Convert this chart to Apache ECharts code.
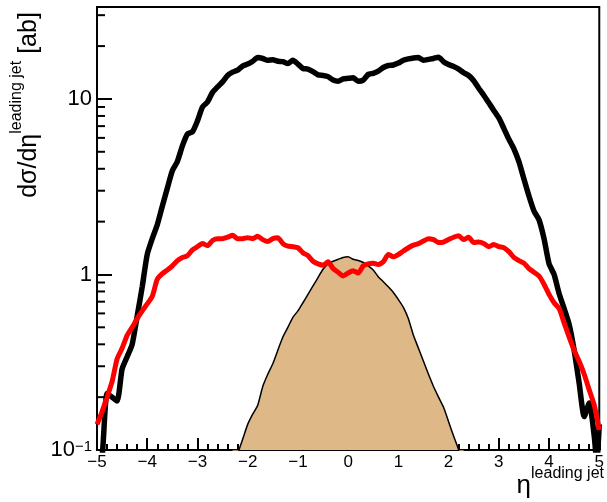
<!DOCTYPE html>
<html><head><meta charset="utf-8">
<script src="https://cdn.jsdelivr.net/npm/echarts@6/dist/echarts.min.js"></script>
<style>html,body{margin:0;padding:0;background:#fff}#c{width:607px;height:502px}</style>
</head><body><div id="c"></div>
<script>
// ---- data ----
const etaBlack = [-5.0,-4.9,-4.8,-4.7,-4.6,-4.5,-4.4,-4.3,-4.2,-4.1,-4.0,-3.9,-3.8,-3.7,-3.6,-3.5,-3.4,-3.3,-3.2,-3.1,
  -3.0,-2.9,-2.8,-2.7,-2.6,-2.5,-2.4,-2.3,-2.2,-2.1,-2.0,-1.9,-1.8,-1.7,-1.6,-1.5,-1.4,-1.3,-1.2,-1.1,
  -1.0,-0.9,-0.8,-0.7,-0.6,-0.5,-0.4,-0.3,-0.2,-0.1,0.0,0.1,0.2,0.3,0.4,0.5,0.6,0.7,0.8,0.9,
  1.0,1.1,1.2,1.3,1.4,1.5,1.6,1.7,1.8,1.9,2.0,2.1,2.2,2.3,2.4,2.5,2.6,2.7,2.8,2.9,
  3.0,3.1,3.2,3.3,3.4,3.5,3.6,3.7,3.8,3.9,4.0,4.1,4.2,4.3,4.4,4.5,4.6,4.7,4.8,4.9,4.95,5.0];
const blackVals = [0.07,0.09,0.21,0.20,0.19,0.29,0.34,0.40,0.58,0.85,1.30,1.60,1.92,2.45,3.10,3.90,4.40,5.40,6.30,6.50,
  7.50,9.00,9.60,10.9,11.7,12.5,13.6,14.2,14.6,15.4,15.8,16.4,17.2,17.0,16.6,16.7,16.4,16.3,15.9,16.6,
  15.8,14.9,14.8,14.3,13.7,13.6,13.4,12.8,12.6,13.0,13.1,13.2,12.6,12.8,13.8,14.0,14.4,15.1,15.5,15.6,
  16.0,16.6,16.9,17.1,17.2,16.6,16.8,17.0,17.3,16.3,15.7,15.3,14.8,14.1,13.6,12.7,11.5,10.5,9.5,8.6,
  7.8,6.8,5.9,5.2,4.4,3.5,2.8,2.3,2.05,1.6,1.15,1.00,0.78,0.64,0.52,0.37,0.24,0.155,0.185,0.12,0.085,0.14];

const etaRed = [-5.0,-4.9,-4.8,-4.7,-4.6,-4.5,-4.4,-4.3,-4.2,-4.1,-4.0,-3.9,-3.8,-3.7,-3.6,-3.5,-3.4,-3.3,-3.2,-3.1,
  -3.0,-2.9,-2.8,-2.7,-2.6,-2.5,-2.4,-2.3,-2.2,-2.1,-2.0,-1.9,-1.8,-1.7,-1.6,-1.5,-1.4,-1.3,-1.2,-1.1,
  -1.0,-0.9,-0.8,-0.7,-0.6,-0.5,-0.4,-0.3,-0.2,-0.1,0.0,0.1,0.2,0.3,0.4,0.5,0.6,0.7,0.8,0.9,
  1.0,1.1,1.2,1.3,1.4,1.5,1.6,1.7,1.8,1.9,2.0,2.1,2.2,2.3,2.4,2.5,2.6,2.7,2.8,2.9,
  3.0,3.1,3.2,3.3,3.4,3.5,3.6,3.7,3.8,3.9,4.0,4.1,4.2,4.3,4.4,4.5,4.6,4.7,4.8,4.9,5.0];
const redVals = [0.14,0.165,0.20,0.245,0.33,0.38,0.45,0.50,0.56,0.62,0.68,0.75,0.94,1.01,1.06,1.12,1.20,1.25,1.28,1.38,
  1.44,1.50,1.46,1.56,1.60,1.60,1.63,1.67,1.60,1.60,1.62,1.60,1.65,1.58,1.54,1.60,1.62,1.50,1.45,1.44,
  1.42,1.33,1.28,1.19,1.15,1.13,1.18,1.08,1.03,0.98,1.02,1.05,1.02,1.12,1.15,1.16,1.14,1.18,1.30,1.26,
  1.30,1.36,1.42,1.47,1.50,1.55,1.60,1.58,1.52,1.53,1.58,1.63,1.66,1.58,1.63,1.52,1.53,1.50,1.44,1.48,
  1.44,1.42,1.35,1.25,1.20,1.16,1.08,1.03,0.98,0.88,0.77,0.69,0.64,0.53,0.44,0.37,0.32,0.27,0.22,0.18,0.13];

const etaTan = [-2.3,-2.2,-2.1,-2.0,-1.9,-1.8,-1.7,-1.6,-1.5,-1.4,-1.3,-1.2,-1.1,-1.0,-0.9,-0.8,-0.7,-0.6,-0.5,-0.4,
  -0.3,-0.2,-0.1,0.0,0.1,0.2,0.3,0.4,0.5,0.6,0.7,0.8,0.9,1.0,1.1,1.2,1.3,1.4,1.5,1.6,1.7,1.8,1.9,2.0,2.1,2.2,2.3];
const tanVals = [0.07,0.095,0.115,0.14,0.16,0.18,0.23,0.27,0.31,0.37,0.44,0.50,0.57,0.62,0.69,0.77,0.86,0.96,1.07,1.15,
  1.19,1.22,1.25,1.26,1.22,1.20,1.17,1.12,1.06,0.97,0.91,0.85,0.79,0.72,0.65,0.56,0.45,0.38,0.32,0.27,0.23,0.20,0.175,0.145,0.12,0.10,0.075];

const yMinorTicks = [0.2,0.3,0.4,0.5,0.6,0.7,0.8,0.9,2,3,4,5,6,7,8,9,20,30];

const zip = (xs, ys) => xs.map((x, i) => [x, ys[i]]);
const FONT = 'Liberation Sans, Arial, Helvetica, sans-serif';

const chart = echarts.init(document.getElementById('c'), null, {renderer: 'canvas'});
chart.setOption({
  animation: false,
  backgroundColor: '#fff',
  grid: {left: 97, top: 7, width: 505, height: 443, show: true, borderColor: '#000', borderWidth: 2, backgroundColor: 'transparent'},
  xAxis: {
    type: 'value', min: -5, max: 5, interval: 1,
    axisLine: {show: true, onZero: false, lineStyle: {color: '#000', width: 2}},
    axisTick: {show: true, inside: true, length: 12, lineStyle: {color: '#000', width: 2}},
    minorTick: {show: true, splitNumber: 5, length: 6, lineStyle: {color: '#000', width: 2}},
    splitLine: {show: false},
    axisLabel: {color: '#000', fontFamily: FONT, fontSize: 17, margin: 4,
      formatter: v => String(v).replace('-', '\u2212')}
  },
  yAxis: {
    type: 'log', logBase: 10, min: 0.1, max: 33.4, interval: 1,
    axisLine: {show: true, onZero: false, lineStyle: {color: '#000', width: 2}},
    axisTick: {show: true, inside: true, length: 15, lineStyle: {color: '#000', width: 2}},
    splitLine: {show: false},
    axisLabel: {color: '#000', fontFamily: FONT, fontSize: 22, margin: 5,
      showMinLabel: true, showMaxLabel: false,
      formatter: v => {
        const l = Math.log10(v);
        if (Math.abs(l - Math.round(l)) > 1e-6) return '';
        const k = Math.round(l);
        if (k === -1) return '{b|10}{s|\u22121}';
        if (k === 0) return '{b|1}';
        if (k === 1) return '{b|10}';
        return '';
      },
      rich: {
        b: {fontFamily: FONT, fontSize: 22, color: '#000', verticalAlign: 'bottom'},
        s: {fontFamily: FONT, fontSize: 15, color: '#000', verticalAlign: 'top'}
      }
    }
  },
  series: [
    {
      type: 'line', data: zip(etaTan, tanVals), showSymbol: false, smooth: 0.2, z: 2,
      lineStyle: {color: '#000', width: 1.5},
      areaStyle: {color: '#DEB887', opacity: 1, origin: 'start'}
    },
    {
      type: 'line', data: zip(etaBlack, blackVals), showSymbol: false, smooth: 0.2, z: 3,
      lineStyle: {color: '#000', width: 5.5}
    },
    {
      type: 'line', data: zip(etaRed, redVals), showSymbol: false, smooth: 0.2, z: 4,
      lineStyle: {color: '#ff0000', width: 5}
    },
    {
      type: 'custom', z: 5, silent: true, clip: false,
      data: yMinorTicks.map(v => [-5, v]),
      renderItem: (params, api) => {
        const p = api.coord([api.value(0), api.value(1)]);
        return {type: 'line', shape: {x1: p[0], y1: p[1], x2: p[0] + 8, y2: p[1]},
          style: {stroke: '#000', lineWidth: 2}};
      }
    }
  ],
  graphic: [
    {
      type: 'text', x: 25, y: 105, rotation: Math.PI / 2,
      style: {
        text: '{m|d\u03c3/d\u03b7}{s|leading jet}{m| [ab]}',
        align: 'center', verticalAlign: 'middle',
        rich: {
          m: {fontFamily: FONT, fontSize: 25, fill: '#000', verticalAlign: 'bottom', padding: [8, 0, 0, 0]},
          s: {fontFamily: FONT, fontSize: 16, fill: '#000', verticalAlign: 'top'}
        }
      }
    },
    {
      type: 'text', x: 604, y: 499,
      style: {
        text: '{e|\u03b7}{s|leading jet}',
        align: 'right', verticalAlign: 'bottom',
        rich: {
          e: {fontFamily: FONT, fontSize: 26, fill: '#000', verticalAlign: 'bottom', padding: [7, 0, 0, 0]},
          s: {fontFamily: FONT, fontSize: 16, fill: '#000', verticalAlign: 'top'}
        }
      }
    }
  ]
});
</script></body></html>
